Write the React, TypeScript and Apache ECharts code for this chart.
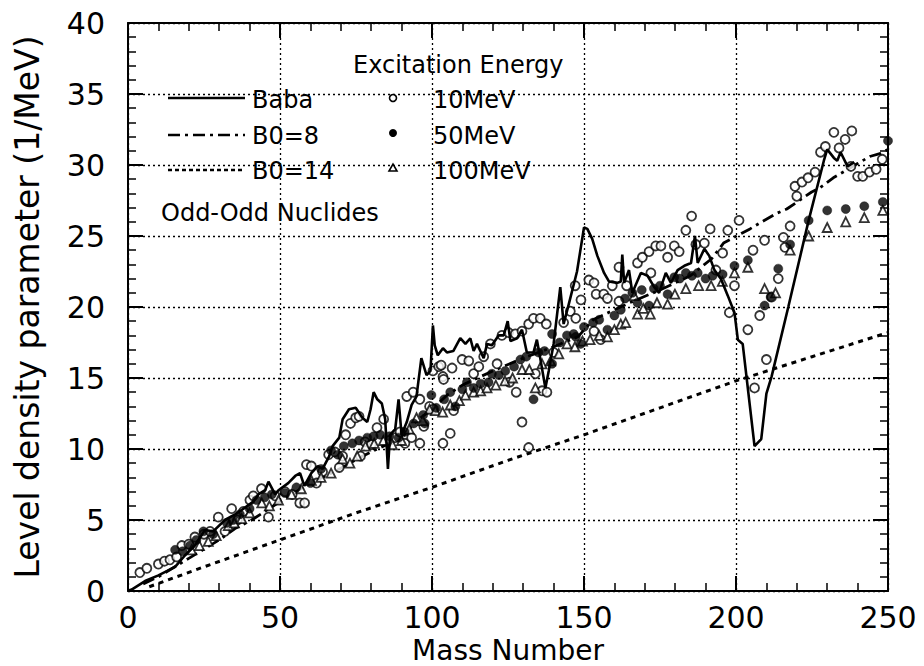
import React, { useEffect, useRef } from 'react';
import * as echarts from 'echarts';

const FONT = '"DejaVu Sans", sans-serif';

// Axis ranges / ticks
const X_MIN = 0, X_MAX = 250, X_STEP = 50;
const Y_MIN = 0, Y_MAX = 40, Y_STEP = 5;

// Baba (solid line) [mass number, a]
const baba: number[][] = [
  [0, 0], [1.2, 0.1], [5.6, 0.7], [10, 1.1], [15.5, 1.7], [18.7, 2.5], [22, 3.2], [25.3, 4.3], [28, 4.2],
  [31.9, 5.0], [35.2, 5.4], [37.4, 5.7], [41.2, 6.3], [42.9, 6.8], [45.1, 7.1], [46.2, 7.7], [48.4, 6.8],
  [49.5, 7.1], [52.7, 7.6], [55, 8.1], [56.6, 8.3], [58, 7.4], [60.3, 8.3], [62.4, 8.8], [64, 8.6],
  [66.2, 9.5], [67.3, 10.2], [69.5, 10.8], [70.6, 12.1], [72.7, 12.8], [74.9, 12.9], [77.1, 12.2],
  [78.7, 11.9], [79.8, 12.8], [80.8, 14.0], [82, 13.5], [83.5, 13.2], [84.6, 12.1], [85.5, 8.6],
  [86.2, 11.0], [87.9, 11.4], [89, 13.5], [90, 11.0], [91.7, 11.9], [93.3, 13.1], [94.9, 13.7],
  [96.5, 16.4], [98.2, 15.2], [99.5, 15.5], [100.3, 18.7], [100.9, 17.3], [101.9, 16.6], [103.6, 17.1],
  [104.9, 16.8], [107, 16.9], [109.3, 17.8], [111, 17.4], [112.6, 17.8], [113.7, 16.9], [114.8, 17.4],
  [115.9, 16.9], [117, 16.4], [118.1, 17.4], [119.7, 17.3], [121.9, 18.0], [123.6, 18.0], [124.9, 19.0],
  [125.8, 17.6], [128, 17.8], [129.6, 18.4], [131.2, 16.8], [133.4, 16.8], [134.5, 17.7], [135.6, 16.4],
  [137.3, 14.3], [138.4, 15.5], [140, 17.4], [142.2, 21.4], [143.3, 18.8], [145, 20.2], [147.7, 22.5],
  [150, 25.6], [151.1, 25.5], [152.7, 24.8], [154.4, 23.6], [156.6, 22.4], [158.2, 21.8], [161, 21.7],
  [162.1, 21.8], [162.6, 23.7], [163.2, 21.7], [164.8, 22.6], [165.9, 21.0], [168.7, 22.4], [170.9, 22.2],
  [173.1, 21.4], [174.7, 21.0], [176.9, 22.4], [178.6, 21.7], [180.8, 22.6], [183, 22.9], [185.2, 23.1],
  [186.5, 25.0], [187.4, 23.1], [189.6, 24.1], [191.2, 23.6], [192.9, 22.6], [195, 22.0], [197.3, 20.8],
  [199.5, 19.6], [200.6, 17.7], [202.2, 17.4], [206.1, 10.2], [208.3, 10.7], [210, 13.9], [211.7, 15.1],
  [217.2, 20.0], [223.9, 26.1], [228.9, 30.3], [230, 31.1], [232.2, 30.5], [233.3, 30.3], [234.4, 30.9],
  [236.7, 29.9], [238.9, 30.2]
];

// B0=8 (dash-dot line)
const b0eight: number[][] = [
  [5, 0.5], [10, 1.0], [20, 2.3], [30, 3.6], [35.2, 4.4], [40.7, 5.0], [50, 6.3], [60, 7.6], [66, 8.2],
  [72.2, 8.9], [75.4, 9.3], [80, 9.8], [90, 10.8], [95, 12.0], [100, 12.8], [105, 13.8], [110, 14.5],
  [120, 15.5], [130, 16.4], [140, 17.2], [148, 17.9], [153, 19.1], [157, 19.5], [165, 20.3], [175, 21.2],
  [185, 22.2], [192, 23.4], [195.9, 24.5], [201.9, 25.2], [204.6, 25.5], [208.5, 26.0], [213.4, 26.6],
  [216.7, 26.9], [224.9, 28.1], [227.6, 28.4], [232, 29.1], [240, 30.1], [244, 30.6], [247.3, 30.8], [250, 31.1]
];

// B0=14 (dotted line)
const b0fourteen: number[][] = [
  [7, 0.3], [25, 1.7], [50, 3.6], [75, 5.5], [100, 7.3], [125, 9.2], [150, 11.0], [175, 12.9],
  [200, 14.8], [225, 16.5], [250, 18.2]
];

// 10 MeV (open circles)
const e10: number[][] = [
  [3.9, 1.3], [6.2, 1.6], [10, 1.9], [12, 2.1], [13.8, 2.2], [16, 2.4], [17.7, 3.2], [20, 3.3], [22, 3.8],
  [25, 4.0], [27, 4.2], [29.7, 5.2], [31.9, 4.2], [34.1, 5.8], [36, 5.0], [38, 5.6], [40.1, 6.4], [41.2, 6.7],
  [43.9, 7.2], [46.2, 5.2], [48.4, 6.7], [51.6, 7.0], [54, 6.8], [56.5, 6.2], [58.1, 6.2], [58.7, 8.9],
  [60.3, 8.8], [62, 7.6], [64, 8.4], [66, 9.6], [68, 9.8], [69.5, 8.7], [70.6, 9.5], [71.6, 11.0],
  [73.2, 11.8], [74.9, 12.2], [76, 12.3], [76.5, 9.5], [78, 10.5], [80, 10.3], [81.9, 11.5], [84.1, 12.1],
  [86, 10.6], [87.9, 10.8], [89.5, 11.2], [91.1, 10.4], [91.7, 13.7], [93.3, 10.8], [93.8, 14.0], [96, 13.5],
  [96, 10.4], [97.3, 11.6], [99.2, 13.0], [100.3, 15.5], [100.5, 12.8], [102.2, 15.8], [103, 15.9],
  [103.6, 15.1], [103.6, 10.4], [103.8, 14.9], [106, 11.1], [106.6, 15.7], [107.1, 12.7], [109.9, 16.3],
  [112.1, 16.2], [113.7, 15.3], [115.4, 15.8], [117, 16.5], [119.2, 17.4], [121.4, 16.0], [123, 18.0],
  [125.2, 18.2], [125.5, 14.7], [127.4, 18.1], [127.7, 14.0], [129.6, 18.3], [129.6, 11.9], [131.8, 18.8],
  [131.8, 10.1], [133.4, 19.2], [134, 15.3], [135.6, 19.2], [136.2, 14.1], [137.6, 18.8], [137.8, 14.0],
  [140, 16.8], [143.3, 18.9], [145.5, 19.7], [147.1, 21.5], [147.3, 19.2], [149, 20.5], [151.6, 21.9],
  [153.3, 21.7], [153.3, 18.3], [154, 20.9], [155.5, 17.7], [156.5, 20.9], [157.7, 20.6], [159.3, 21.5],
  [161.5, 20.4], [161.5, 22.8], [164, 21.5], [167.6, 23.1], [169.2, 23.5], [171.4, 23.9], [172, 22.4],
  [173.6, 24.3], [175.3, 24.3], [177.5, 23.5], [179.7, 24.3], [181.3, 23.9], [183.5, 25.4], [185.4, 26.4],
  [186.8, 24.4], [189.6, 24.5], [191.5, 25.5], [193.4, 22.6], [195.6, 23.8], [197.3, 25.4], [197.8, 19.6],
  [199.5, 21.5], [201, 26.1], [203.9, 18.4], [205.6, 24.0], [206.1, 14.3], [207.8, 19.4], [209.4, 24.7],
  [210, 16.3], [211.7, 20.7], [213.9, 22.0], [215.6, 24.9], [216.1, 24.2], [217.8, 25.7], [219.4, 28.5],
  [220, 27.8], [221.7, 28.8], [223.7, 29.1], [226, 29.5], [227.8, 30.9], [229.4, 31.3], [232.2, 32.3],
  [233.9, 31.2], [235.9, 31.8], [237.8, 29.9], [238.1, 32.4], [240, 29.2], [241.7, 29.2], [243.9, 29.5],
  [246.1, 29.7], [248.1, 30.4]
];

// 50 MeV (filled circles)
const e50: number[][] = [
  [15.5, 2.9], [18, 2.8], [20.4, 3.2], [22.5, 3.6], [24.8, 4.2], [28, 4.0], [32.5, 4.8], [34.5, 5.0],
  [36.8, 5.4], [40, 5.8], [42.3, 6.4], [45, 6.6], [47.3, 6.8], [51.6, 6.9], [55.4, 7.3], [60, 7.6],
  [63.5, 8.6], [66.8, 9.9], [69, 9.6], [71, 10.2], [73.8, 10.4], [76, 10.6], [78.7, 10.8], [80.8, 10.9],
  [83, 11.0], [86, 10.9], [89, 10.8], [91, 11.2], [94, 11.8], [97.1, 12.4], [97.6, 11.8], [99.8, 13.8],
  [101.4, 12.9], [104, 13.5], [106, 14.0], [107.7, 13.0], [110, 14.2], [111.5, 14.7], [113.7, 14.3],
  [116, 14.6], [118.6, 14.7], [119.7, 15.3], [122, 15.2], [124.1, 15.5], [127, 15.8], [129.1, 16.3],
  [131, 16.5], [133.4, 13.5], [135, 16.8], [137, 16.9], [139.5, 16.0], [139.5, 18.1], [142, 17.5],
  [144.4, 18.0], [146.6, 18.1], [147.3, 17.9], [148.9, 17.4], [150, 18.6], [153, 18.9], [155, 19.1],
  [157.7, 18.4], [160, 19.4], [162.1, 19.8], [163.5, 20.6], [165.9, 21.0], [167.6, 20.3], [169, 21.2],
  [171.4, 20.1], [173, 21.3], [175, 21.5], [177.5, 20.9], [179.7, 22.1], [181.5, 22.0], [183.5, 22.4],
  [185.5, 22.2], [187.4, 22.4], [190, 22.0], [192.3, 22.2], [195.6, 22.3], [199.5, 22.9], [203.9, 23.3],
  [209.4, 20.1], [211.4, 20.7], [213.9, 22.7], [217.8, 24.4], [223.9, 26.1], [230, 26.8], [236.1, 26.9],
  [242.2, 27.1], [248.3, 27.4], [250, 31.7]
];

// 100 MeV (open triangles)
const e100: number[][] = [
  [20.9, 2.9], [23.5, 3.2], [26.4, 3.5], [29, 3.9], [33, 4.6], [35, 4.8], [37.4, 5.1], [40, 5.5], [44, 6.2],
  [46.5, 6.0], [49.5, 6.4], [53.8, 6.8], [57, 7.2], [60.3, 7.8], [63.5, 8.0], [66.8, 8.3], [70.6, 9.3],
  [73, 9.0], [75.4, 9.5], [78.1, 10.2], [81, 10.4], [84, 10.6], [87, 10.3], [90, 10.6], [92.5, 11.4],
  [94.9, 12.2], [97, 12.0], [99.2, 12.8], [101.1, 12.7], [103.5, 12.6], [106, 13.1], [109, 13.4],
  [111, 13.8], [113.7, 14.0], [116, 14.1], [118.1, 14.3], [121, 14.5], [124, 14.8], [126.5, 15.0],
  [129.6, 15.6], [132, 15.6], [134, 14.3], [136.2, 16.0], [139, 16.2], [141.7, 16.7], [144.4, 17.4],
  [147, 17.2], [149.5, 17.6], [152, 17.7], [155, 18.0], [157.7, 17.9], [160, 18.4], [162.1, 18.8],
  [163.7, 18.9], [166.5, 20.8], [167.6, 19.5], [169.5, 19.9], [171.8, 19.5], [174, 20.3], [177.5, 20.2],
  [179.9, 20.9], [183.5, 21.3], [187.7, 21.5], [191.8, 21.5], [195.5, 21.8], [199.5, 22.4], [203.9, 22.8],
  [209.4, 21.3], [213, 21.0], [217.8, 24.0], [223.9, 25.0], [230, 25.6], [236.1, 26.0], [242.2, 26.3],
  [248.3, 26.8]
];

const DASHDOT = [12, 5, 3, 5];
const DOTTED = [5, 5];

function makeAxis(kind: 'x' | 'y', position: string, main: boolean) {
  const isX = kind === 'x';
  const base: any = {
    type: 'value',
    position,
    min: isX ? X_MIN : Y_MIN,
    max: isX ? X_MAX : Y_MAX,
    interval: isX ? X_STEP : Y_STEP,
    axisLine: { show: true, onZero: false, lineStyle: { color: '#000', width: 2 } },
    axisTick: { show: true, inside: true, length: 15, lineStyle: { color: '#000', width: 2 } },
    minorTick: { show: true, splitNumber: 5, length: 8, lineStyle: { color: '#000', width: 1.5 } },
    axisLabel: main
      ? { show: true, fontSize: 30, color: '#000', fontFamily: FONT, margin: isX ? 11 : 23 }
      : { show: false },
    splitLine: main
      ? { show: true, lineStyle: { color: '#000', type: [2, 3], width: 1.3 } }
      : { show: false },
    minorSplitLine: { show: false },
  };
  if (main) {
    base.name = isX ? 'Mass Number' : 'Level density parameter (1/MeV)';
    base.nameLocation = 'middle';
    base.nameGap = isX ? 38 : 83;
    base.nameTextStyle = { fontSize: isX ? 28 : 33, color: '#000', fontFamily: FONT, lineHeight: isX ? 28 : 36 };
  }
  return base;
}

const txt = (text: string, x: number, y: number) => ({
  type: 'text',
  x,
  y,
  style: { text, fontSize: 24, fontFamily: FONT, fill: '#000', verticalAlign: 'middle', align: 'left' },
  z: 10,
});

const option: any = {
  animation: false,
  backgroundColor: '#fff',
  grid: { left: 128, right: 36, top: 23, bottom: 75, containLabel: false, outerBoundsMode: 'none' },
  xAxis: [makeAxis('x', 'bottom', true), makeAxis('x', 'top', false)],
  yAxis: [makeAxis('y', 'left', true), makeAxis('y', 'right', false)],
  series: [
    {
      name: 'B0=14', type: 'line', data: b0fourteen, showSymbol: false, symbol: 'none',
      lineStyle: { color: '#000', width: 3, type: DOTTED }, z: 2,
    },
    {
      name: 'B0=8', type: 'line', data: b0eight, showSymbol: false, symbol: 'none',
      lineStyle: { color: '#000', width: 2.8, type: DASHDOT }, z: 2,
    },
    {
      name: '10MeV', type: 'scatter', data: e10, symbol: 'circle', symbolSize: 9,
      itemStyle: { color: '#fff', borderColor: '#000', borderWidth: 1.8 }, z: 3,
    },
    {
      name: '100MeV', type: 'scatter', data: e100, symbol: 'triangle', symbolSize: 9,
      itemStyle: { color: '#fff', borderColor: '#000', borderWidth: 1.8 }, z: 3,
    },
    {
      name: '50MeV', type: 'scatter', data: e50, symbol: 'circle', symbolSize: 9,
      itemStyle: { color: '#000', borderColor: '#000', borderWidth: 0.5 }, z: 4,
    },
    {
      name: 'Baba', type: 'line', data: baba, showSymbol: false, symbol: 'none',
      lineStyle: { color: '#000', width: 2.6 }, z: 5,
    },
  ],
  graphic: [
    { type: 'line', shape: { x1: 168, y1: 98, x2: 245, y2: 98 }, style: { stroke: '#000', lineWidth: 2.4 }, z: 10 },
    { type: 'line', shape: { x1: 168, y1: 135, x2: 245, y2: 135 }, style: { stroke: '#000', lineWidth: 2.6, lineDash: DASHDOT }, z: 10 },
    { type: 'line', shape: { x1: 168, y1: 170, x2: 245, y2: 170 }, style: { stroke: '#000', lineWidth: 2.6, lineDash: [4, 3] }, z: 10 },
    txt('Baba', 252, 100),
    txt('B0=8', 252, 136),
    txt('B0=14', 252, 171),
    txt('Odd-Odd Nuclides', 161, 213),
    txt('Excitation Energy', 353, 65),
    { type: 'circle', shape: { cx: 393, cy: 98, r: 3.5 }, style: { fill: '#fff', stroke: '#000', lineWidth: 1.6 }, z: 10 },
    { type: 'circle', shape: { cx: 393, cy: 133, r: 4 }, style: { fill: '#000' }, z: 10 },
    { type: 'polygon', shape: { points: [[389, 171], [397, 171], [393, 164]] }, style: { fill: '#fff', stroke: '#000', lineWidth: 1.6 }, z: 10 },
    txt('10MeV', 433, 100),
    txt('50MeV', 433, 136),
    txt('100MeV', 433, 171),
  ],
};

export default function App() {
  const ref = useRef<HTMLDivElement>(null);
  useEffect(() => {
    const chart = echarts.init(ref.current as HTMLDivElement, null, { renderer: 'svg' });
    chart.setOption(option);
    return () => chart.dispose();
  }, []);
  return (
    <div
      ref={ref}
      style={{ position: 'absolute', left: 0, top: 0, width: 924, height: 666, background: '#fff' }}
    />
  );
}
